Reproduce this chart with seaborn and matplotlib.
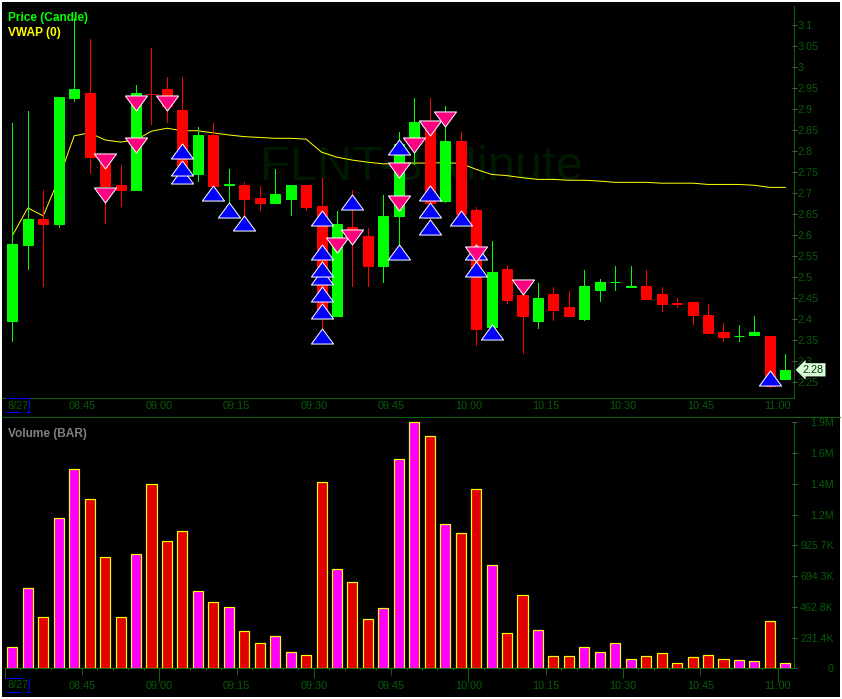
import numpy as np
import pandas as pd
import matplotlib
matplotlib.use("Agg")
import matplotlib.pyplot as plt
from matplotlib.lines import Line2D
from matplotlib.path import Path
import seaborn as sns

# one row per 3 minute bar
opens = [2.395, 2.577, 2.639, 2.627, 2.927, 2.939, 2.791, 2.72, 2.708, 2.937, 2.949, 2.899, 2.746, 2.839, 2.72, 2.72, 2.689,
         2.677, 2.686, 2.72, 2.67, 2.407, 2.62, 2.598, 2.527, 2.646, 2.822, 2.87, 2.682, 2.825, 2.66, 2.381, 2.519, 2.457,
         2.395, 2.46, 2.429, 2.40, 2.469, 2.488, 2.477, 2.479, 2.46, 2.438, 2.441, 2.41, 2.369, 2.359, 2.362, 2.36, 2.257]
closes = [2.579, 2.639, 2.627, 2.93, 2.949, 2.786, 2.717, 2.708, 2.939, 2.936, 2.908, 2.763, 2.839, 2.717, 2.721, 2.686, 2.677,
          2.698, 2.72, 2.667, 2.415, 2.627, 2.612, 2.527, 2.646, 2.817, 2.87, 2.677, 2.825, 2.651, 2.376, 2.512, 2.446, 2.407,
          2.45, 2.422, 2.407, 2.479, 2.488, 2.489, 2.478, 2.448, 2.436, 2.437, 2.41, 2.367, 2.357, 2.36, 2.369, 2.24, 2.279]
highs = [2.867, 2.896, 2.708, 2.93, 3.118, 3.068, 2.796, 2.767, 2.958, 3.046, 2.977, 2.977, 2.858, 2.868, 2.758, 2.727, 2.717,
         2.758, 2.72, 2.72, 2.736, 2.658, 2.708, 2.617, 2.696, 2.846, 2.927, 2.927, 2.908, 2.846, 2.667, 2.586, 2.527, 2.493,
         2.486, 2.477, 2.467, 2.517, 2.496, 2.527, 2.527, 2.517, 2.477, 2.45, 2.441, 2.436, 2.391, 2.386, 2.407, 2.36, 2.317]
lows = [2.348, 2.52, 2.48, 2.62, 2.92, 2.748, 2.629, 2.67, 2.708, 2.865, 2.87, 2.722, 2.729, 2.717, 2.667, 2.636, 2.66,
        2.677, 2.648, 2.66, 2.374, 2.407, 2.479, 2.479, 2.488, 2.572, 2.77, 2.629, 2.68, 2.651, 2.338, 2.381, 2.438, 2.319,
        2.379, 2.398, 2.407, 2.398, 2.443, 2.469, 2.477, 2.448, 2.419, 2.429, 2.388, 2.367, 2.348, 2.348, 2.362, 2.238, 2.257]
vwap = [2.599, 2.665, 2.646, 2.734, 2.837, 2.844, 2.827, 2.822, 2.827, 2.848, 2.855, 2.849, 2.849, 2.844, 2.839, 2.835, 2.833,
        2.831, 2.831, 2.829, 2.798, 2.786, 2.779, 2.774, 2.77, 2.771, 2.772, 2.772, 2.773, 2.771, 2.757, 2.745, 2.742, 2.737,
        2.733, 2.733, 2.731, 2.731, 2.729, 2.726, 2.726, 2.726, 2.724, 2.724, 2.724, 2.721, 2.721, 2.721, 2.719, 2.714, 2.714]
volume = [158, 602, 384, 1129, 1497, 1272, 835, 384, 858, 1385, 956, 1031, 579, 497, 459, 278, 188,
          241, 120, 98, 1400, 745, 647, 369, 452, 1573, 1851, 1746, 1084, 1016, 1347, 775, 263, 549,
          286, 90, 90, 158, 120, 188, 68, 90, 113, 38, 83, 98, 68, 60, 53, 354, 38]

buy_bars = [11, 11, 11, 13, 14, 15, 20, 20, 20, 20, 20, 20, 20, 22, 25, 25, 27, 27, 27, 29, 30, 30, 31, 49]
buy_prices = [2.742, 2.761, 2.801, 2.701, 2.661, 2.63, 2.36, 2.42, 2.46, 2.501, 2.52, 2.56, 2.642, 2.68, 2.56, 2.811,
              2.62, 2.661, 2.701, 2.642, 2.56, 2.52, 2.37, 2.259]
sell_bars = [6, 6, 8, 8, 10, 21, 22, 25, 25, 26, 27, 28, 30, 33]
sell_prices = [2.777, 2.696, 2.916, 2.816, 2.916, 2.577, 2.596, 2.756, 2.677, 2.816, 2.856, 2.878, 2.556, 2.477]

price_ticks = [2.25, 2.3, 2.35, 2.4, 2.45, 2.5, 2.55, 2.6, 2.65, 2.7, 2.75, 2.8, 2.85, 2.9, 2.95, 3.0, 3.05, 3.1]
price_labels = ["2.25", "2.3", "2.35", "2.4", "2.45", "2.5", "2.55", "2.6", "2.65", "2.7", "2.75", "2.8", "2.85", "2.9",
                "2.95", "3", "3.05", "3.1"]
vol_ticks = [0, 231.4, 462.8, 694.3, 925.7, 1157, 1388, 1620, 1851]
vol_labels = ["0", "231.4K", "462.8K", "694.3K", "925.7K", "1.2M", "1.4M", "1.6M", "1.9M"]
time_ticks = [-0.5, 4.5, 9.5, 14.5, 19.5, 24.5, 29.5, 34.5, 39.5, 44.5, 49.5]
time_labels = ["8/27", "08:45", "09:00", "09:15", "09:30", "09:45", "10:00", "10:15", "10:30", "10:45", "11:00"]
tick_px = [10, 7, 14, 7, 10, 7, 14, 7, 10, 7, 14]

W, H = 842, 699
GREEN = "#00ff00"
RED = "#ff0000"
AXIS = "#086808"
LABEL = "#085c08"
GRID = "#5a5a5a"
BLUE = "#0000ff"
FONT = ["Liberation Sans", "DejaVu Sans"]

sns.set_style("dark", rc={"axes.facecolor": "black", "figure.facecolor": "white", "axes.grid": False})
plt.rcParams["font.family"] = FONT


def box(left, top, right, bottom):
    return [left / W, 1 - bottom / H, (right - left) / W, (bottom - top) / H]


def px(n):
    return n * 72 / 100


df = pd.DataFrame({"bar": np.arange(len(closes)), "open": opens, "close": closes, "high": highs, "low": lows,
                   "vwap": vwap, "volume": volume})
df["up"] = df["close"] >= df["open"]
df["dir"] = np.where(df["up"], "up", "down")

fig = plt.figure(figsize=(W / 100, H / 100), dpi=100)
bg = fig.add_axes(box(2, 2, 840, 697), zorder=0)
bg.set_facecolor("black")
bg.set_xticks([])
bg.set_yticks([])
for s in bg.spines.values():
    s.set_visible(False)

xlim = (-0.67, 50.58)
ax = fig.add_axes(box(2, 2, 794.3, 398.3), zorder=1)
vol = fig.add_axes(box(2, 417.3, 794.3, 668.3), zorder=1)
ax.patch.set_alpha(0)
vol.patch.set_alpha(0)

# price pane
ax.text(0.5297, 0.5824, "FLNT-3 Minute", transform=ax.transAxes, color="#001a00", fontsize=35.2, ha="center",
        va="center", zorder=1)

sns.lineplot(data=df, x="bar", y="vwap", color="#ffff00", linewidth=px(1), ax=ax, zorder=2, errorbar=None)

colors = np.where(df["up"], GREEN, RED)
ax.vlines(df["bar"], df["low"], df["high"], colors=colors, linewidth=px(1), zorder=3, antialiased=False)
ax.bar(df["bar"], (df["close"] - df["open"]).abs(), bottom=df[["open", "close"]].min(axis=1), width=0.65, color=colors,
       edgecolor=colors, linewidth=px(1), zorder=4)

triangle_up = Path([(-1, -0.68), (1, -0.68), (0, 0.68), (-1, -0.68)], closed=True)
triangle_down = Path([(-1, 0.68), (1, 0.68), (0, -0.68), (-1, 0.68)], closed=True)
sns.scatterplot(x=buy_bars, y=buy_prices, marker=triangle_up, s=255, color=BLUE, edgecolor="white",
                linewidth=px(1), ax=ax, zorder=5, clip_on=False)
sns.scatterplot(x=sell_bars, y=sell_prices, marker=triangle_down, s=255, color="#ff0080", edgecolor="white",
                linewidth=px(1), ax=ax, zorder=6, clip_on=False)

ax.set_xlim(*xlim)
ax.set_ylim(2.2111, 3.156)
ax.set_xlabel("")
ax.set_ylabel("")
ax.yaxis.tick_right()
ax.set_yticks(price_ticks)
ax.set_yticklabels(price_labels)
ax.tick_params(axis="y", direction="inout", length=px(5), width=px(1), color=GRID, labelcolor=LABEL, labelsize=7.8,
               pad=0.5, right=True, left=False)
ax.set_xticks([0.37] + time_ticks[1:])
ax.set_xticklabels(time_labels)
ax.tick_params(axis="x", length=0, labelcolor=LABEL, labelsize=7.8, pad=px(3), bottom=True)
for name, s in ax.spines.items():
    s.set_visible(name in ("right", "bottom"))
    s.set_color(AXIS)
    s.set_linewidth(px(1))
ax.spines["right"].set_bounds(2.2111, 3.1465)

ax.text(0.0076, 0.9605, "Price (Candle)", transform=ax.transAxes, color=GREEN, fontsize=8.6, fontweight="bold",
        ha="left", va="center")
ax.text(0.0076, 0.9225, "VWAP (0)", transform=ax.transAxes, color="#ffff00", fontsize=8.6, fontweight="bold",
        ha="left", va="center")

ax.annotate("2.28", xy=(xlim[1], closes[-1]), xytext=(19, 0), textcoords="offset pixels", color="#103010", fontsize=7.8,
            ha="center", va="center", bbox=dict(boxstyle="larrow,pad=0.15", fc="#d8ffd8", ec="none"),
            annotation_clip=False, zorder=8)

# volume pane
sns.barplot(data=df, x="bar", y="volume", hue="dir", palette={"up": "#ff00ff", "down": "#e00000"}, dodge=False,
            native_scale=True, width=0.65, saturation=1, edgecolor="#ffff00", linewidth=px(1.2), legend=False, ax=vol,
            zorder=3)
vol.set_xlim(*xlim)
vol.set_ylim(0, 1889)
vol.set_xlabel("")
vol.set_ylabel("")
vol.yaxis.tick_right()
vol.set_yticks(vol_ticks)
vol.set_yticklabels(vol_labels, ha="right")
vol.tick_params(axis="y", direction="inout", length=px(5), width=px(1), color=GRID, labelcolor=LABEL, labelsize=7.7,
                pad=px(37), right=True, left=False)
vol.set_xticks(time_ticks)
vol.set_xticklabels([""] + time_labels[1:])
vol.set_xticks(np.arange(0.5, 50.5, 1), minor=True)
vol.tick_params(axis="x", which="major", length=px(7), width=px(1), color=AXIS, labelcolor=LABEL, labelsize=7.8,
                pad=px(6), bottom=True)
vol.tick_params(axis="x", which="minor", length=px(2), width=px(1), color=AXIS, bottom=True)
for tick, n in zip(vol.xaxis.get_major_ticks(), tick_px):
    tick.tick1line.set_markersize(px(n))
vol.text(0.37, -0.0665, time_labels[0], transform=vol.get_xaxis_transform(), color=LABEL, fontsize=7.8, ha="center",
         va="center")
for name, s in vol.spines.items():
    s.set_visible(name in ("right", "bottom"))
    s.set_color(AXIS)
    s.set_linewidth(px(1))
vol.spines["right"].set_bounds(0, 1851)
vol.spines["bottom"].set_bounds(-0.5, xlim[1])

vol.text(0.0076, 0.9323, "Volume (BAR)", transform=vol.transAxes, color="#808080", fontsize=8.6, fontweight="bold",
         ha="left", va="center")

# long separator over the volume pane and the blue date brackets
fig.add_artist(Line2D([2 / W, 840 / W], [1 - 417.3 / H] * 2, color=AXIS, linewidth=px(1)))
for y0, y1, top_end in ((398, 412, 29), (678, 692, 22)):
    fig.add_artist(Line2D([6 / W, top_end / W], [1 - y0 / H] * 2, color=BLUE, linewidth=px(1)))
    fig.add_artist(Line2D([6 / W, 20 / W], [1 - y1 / H] * 2, color=BLUE, linewidth=px(1)))
    fig.add_artist(Line2D([26 / W, 29 / W], [1 - y1 / H] * 2, color=BLUE, linewidth=px(1)))
    fig.add_artist(Line2D([29 / W, 29 / W], [1 - y0 / H, 1 - y1 / H], color=BLUE, linewidth=px(1)))

fig.savefig("out.png", dpi=100, facecolor="white")
